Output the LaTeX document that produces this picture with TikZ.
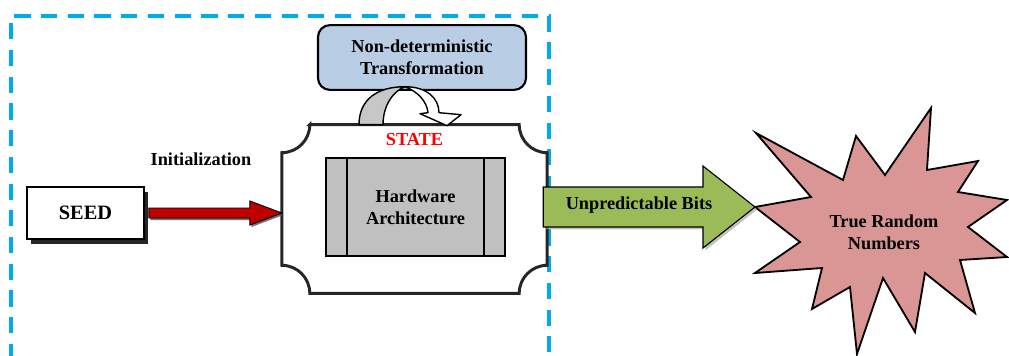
\documentclass[tikz,border=0pt]{standalone}
\usepackage{fontspec}
\setmainfont{Liberation Serif}
\usetikzlibrary{calc,shadows,positioning}
\definecolor{framecol}{RGB}{0,170,235}
\definecolor{transcol}{RGB}{185,205,229}
\definecolor{initcol}{RGB}{192,0,0}
\definecolor{bitscol}{RGB}{155,187,89}
\definecolor{burstcol}{RGB}{217,150,148}
\definecolor{hwcol}{RGB}{192,192,192}

\begin{document}
\begin{tikzpicture}[x=0.025cm,y=0.025cm,
    every node/.style={font=\fontsize{13}{15.5}\selectfont\bfseries, align=center},
    genframe/.style={draw=framecol, line width=2.6pt, dash pattern=on 11.5pt off 7.5pt},
    transbox/.style={draw, line width=1.5pt, fill=transcol, rounded corners=0.3cm,
        minimum width=5.2cm, minimum height=1.62cm},
    plaque/.style={draw=black!85, line width=2.1pt, fill=white},
    hwbox/.style={draw, line width=1.3pt, fill=hwcol, minimum width=4.47cm, minimum height=2.45cm},
    seedbox/.style={draw, line width=1.2pt, fill=white, minimum width=2.92cm, minimum height=1.3cm,
        font=\fontsize{14.5}{17}\selectfont\bfseries,
        drop shadow={shadow xshift=0.1cm, shadow yshift=-0.12cm, fill=black!85, opacity=1}},
    initarrow/.style={draw, line width=0.7pt, fill=initcol,
        drop shadow={shadow xshift=0.04cm, shadow yshift=-0.05cm, fill=black!70, opacity=0.8}},
    bitsarrow/.style={draw, line width=0.8pt, fill=bitscol,
        drop shadow={shadow xshift=0.06cm, shadow yshift=-0.06cm, fill=black!40, opacity=0.6}},
    curlarrow/.style={draw, line width=1pt, line join=round}]
\useasboundingbox (0,0) rectangle (1009,-356);

% dashed frame around the generator
\draw[genframe] (11,-360) -- (11,-16) -- (549,-16) -- (549,-360);

\node[transbox] (trans) at (422,-57.5) {Non-deterministic\\Transformation};

% state plaque
\node[minimum width=6.62cm, minimum height=4.2cm, inner sep=0pt] (state) at (414.5,-209) {};
\draw[plaque] ($(state.north west)+(28,0)$) -- ($(state.north east)+(-28,0)$)
    arc[start angle=180, end angle=270, radius=0.7cm] -- ($(state.south east)+(0,28)$)
    arc[start angle=90, end angle=180, radius=0.7cm] -- ($(state.south west)+(28,0)$)
    arc[start angle=0, end angle=90, radius=0.7cm] -- ($(state.north west)+(0,-28)$)
    arc[start angle=270, end angle=360, radius=0.7cm] -- cycle;

% curled arrow on top of the state
\begin{scope}[shift={(state.north)}]
  \path[curlarrow, fill=black!22] (-55.5,0) .. controls (-55.5,25) and (-37.5,38) .. (-9.5,38)
      .. controls (-20.5,34) and (-31.5,20) .. (-31.5,0) -- cycle;
  \path[curlarrow, fill=white] (-9.5,38) .. controls (11.5,38) and (24.5,27) .. (24.5,12)
      -- (46.5,10) -- (32.5,-1) -- (5.5,11) -- (13.5,12)
      .. controls (12.5,23) and (3.5,33) .. (-9.5,38) -- cycle;
\end{scope}

\node[red, below=3pt of state.north] (statelbl) {STATE};
\node[hwbox] (hw) at (415.5,-207) {Hardware\\Architecture};
\draw[line width=1.3pt] ($(hw.north west)+(22,0)$) -- ($(hw.south west)+(22,0)$);
\draw[line width=1.3pt] ($(hw.north east)+(-22,0)$) -- ($(hw.south east)+(-22,0)$);

\node[seedbox] (seed) at (85.5,-213) {SEED};
\coordinate (init tip) at (seed.east -| state.west);
\path[initarrow] ($(seed.east)+(4,5)$) -- ($(init tip)+(-32,5)$) -- ++(0,7) -- (init tip)
    -- ++(-32,-12) -- ++(0,7) -- ($(seed.east)+(4,-5)$) -- cycle;
\node (init) at (201,-159) {Initialization};

% true random numbers burst
\draw[line width=1.3pt, line join=miter, fill=burstcol] (755,-207) -- (811,-197) -- (756,-133)
    -- (843,-180) -- (856,-136) -- (885,-175) -- (931,-108) -- (927,-170) -- (978,-161)
    -- (958,-192) -- (1007,-200) -- (968,-227) -- (1007,-257) -- (960,-260) -- (975,-313)
    -- (925,-273) -- (915,-332) -- (883,-278) -- (857,-354) -- (850,-287) -- (812,-309)
    -- (822,-268) -- (755,-273) -- (800,-242) -- cycle;
\coordinate (burst tip) at (755,-207);
\node (trng) at (884,-232) {True Random\\Numbers};

\path[bitsarrow] ($(state.east |- burst tip)+(-4,20)$) -- ($(burst tip)+(-52,20)$) -- ++(0,21)
    -- (burst tip) -- ++(-52,-41) -- ++(0,21) -- ($(state.east |- burst tip)+(-4,-20)$) -- cycle;
\node (bits) at (639,-205) {Unpredictable Bits};
\end{tikzpicture}
\end{document}
